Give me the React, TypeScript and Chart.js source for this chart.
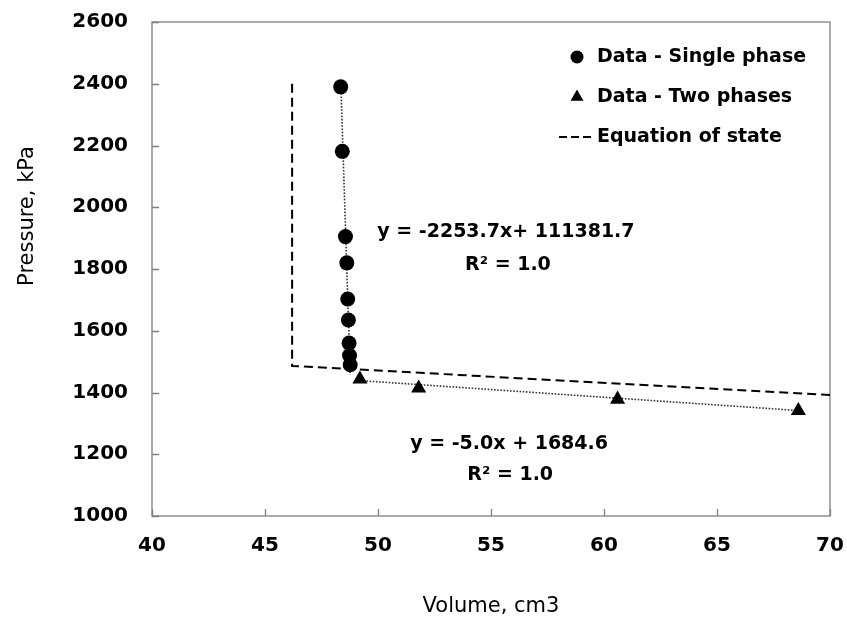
import React, { useEffect, useRef } from 'react';
import { Chart, registerables } from 'chart.js';

Chart.register(...registerables);

// ---- data ----
const singleVolume = [48.35, 48.42, 48.56, 48.62, 48.66, 48.69, 48.72, 48.74, 48.77];
const singlePressure = [2390, 2181, 1905, 1820, 1703, 1635, 1560, 1520, 1490];

const twoVolume = [49.2, 51.8, 60.6, 68.6];
const twoPressure = [1443, 1414, 1378, 1341];

const eosVolume = [46.2, 46.2, 70];
const eosPressure = [2400, 1486, 1392];

const trendSingleVolume = [48.36, 48.77];
const trendSinglePressure = [2390, 1457];
const trendTwoVolume = [49.2, 68.6];
const trendTwoPressure = [1438.6, 1341.6];

const xTicks = [40, 45, 50, 55, 60, 65, 70];
const yTicks = [1000, 1200, 1400, 1600, 1800, 2000, 2200, 2400, 2600];

const legendLabels = ['Data - Single phase', 'Data - Two phases', 'Equation of state'];
const equationTexts = ['y = -2253.7x+ 111381.7', 'R\u00B2 = 1.0', 'y = -5.0x + 1684.6', 'R\u00B2 = 1.0'];
const equationVolume = [55.66, 55.75, 55.8, 55.85];
const equationPressure = [1920, 1813, 1233, 1133];

const xTitle = 'Volume, cm3';
const yTitle = 'Pressure, kPa';

const FONT = "'DejaVu Sans', sans-serif";

const zip = (xs: number[], ys: number[]) => xs.map((x, i) => ({ x, y: ys[i] }));

const noPad = (s: any) => {
  s.paddingTop = 0;
  s.paddingBottom = 0;
  s.paddingLeft = 0;
  s.paddingRight = 0;
};

const framePlugin = {
  id: 'frame',
  beforeDatasetsDraw(chart: any) {
    const { ctx, chartArea: a, scales } = chart;
    ctx.save();
    ctx.strokeStyle = '#7f7f7f';
    ctx.lineWidth = 1.3;
    ctx.strokeRect(a.left, a.top, a.right - a.left, a.bottom - a.top);
    ctx.beginPath();
    for (const v of xTicks) {
      const px = Math.round(scales.x.getPixelForValue(v)) + 0.5;
      ctx.moveTo(px, a.bottom);
      ctx.lineTo(px, a.bottom - 7);
    }
    for (const v of yTicks) {
      const py = Math.round(scales.y.getPixelForValue(v)) + 0.5;
      ctx.moveTo(a.left, py);
      ctx.lineTo(a.left + 7, py);
    }
    ctx.stroke();
    ctx.restore();
  },
  afterDraw(chart: any) {
    const { ctx, chartArea: a, scales } = chart;
    ctx.save();
    // y title
    ctx.fillStyle = '#000';
    ctx.font = `21px ${FONT}`;
    ctx.textAlign = 'center';
    ctx.textBaseline = 'middle';
    ctx.translate(28, 216);
    ctx.rotate(-Math.PI / 2);
    ctx.fillText(yTitle, 0, 0);
    ctx.restore();

    // equations
    ctx.save();
    ctx.fillStyle = '#000';
    ctx.font = `bold 19px ${FONT}`;
    ctx.textAlign = 'center';
    ctx.textBaseline = 'middle';
    equationTexts.forEach((t, i) => {
      ctx.fillText(t, scales.x.getPixelForValue(equationVolume[i]), scales.y.getPixelForValue(equationPressure[i]));
    });
    ctx.restore();

    // legend
    ctx.save();
    const lx = a.right - 253;
    const ly = a.top + 35;
    const gap = 40;
    ctx.fillStyle = '#000';
    ctx.beginPath();
    ctx.arc(lx, ly, 6.5, 0, Math.PI * 2);
    ctx.fill();
    const tr = 7.5;
    const ty = ly + gap;
    ctx.beginPath();
    ctx.moveTo(lx, ty - tr);
    ctx.lineTo(lx + tr * 0.866, ty + tr / 2);
    ctx.lineTo(lx - tr * 0.866, ty + tr / 2);
    ctx.closePath();
    ctx.fill();
    ctx.strokeStyle = '#000';
    ctx.lineWidth = 2;
    ctx.setLineDash([8, 4]);
    ctx.beginPath();
    ctx.moveTo(lx - 18, ly + 2 * gap);
    ctx.lineTo(lx + 18, ly + 2 * gap);
    ctx.stroke();
    ctx.setLineDash([]);
    ctx.font = `bold 19px ${FONT}`;
    ctx.textAlign = 'left';
    ctx.textBaseline = 'middle';
    legendLabels.forEach((t, i) => ctx.fillText(t, lx + 20, ly + i * gap));
    ctx.restore();
  },
};

export default function App() {
  const ref = useRef<HTMLCanvasElement | null>(null);
  useEffect(() => {
    if (!ref.current) return;
    const chart = new Chart(ref.current, {
      type: 'scatter',
      data: {
        datasets: [
          {
            label: legendLabels[0],
            data: zip(singleVolume, singlePressure),
            pointStyle: 'circle',
            pointRadius: 7.5,
            backgroundColor: '#000',
            borderColor: '#000',
            borderWidth: 0,
            showLine: false,
          },
          {
            label: legendLabels[1],
            data: zip(twoVolume, twoPressure),
            pointStyle: 'triangle',
            pointRadius: 8.7,
            backgroundColor: '#000',
            borderColor: '#000',
            borderWidth: 0,
            showLine: false,
          },
          {
            label: 'trend single',
            data: zip(trendSingleVolume, trendSinglePressure),
            showLine: true,
            pointRadius: 0,
            borderColor: '#333',
            borderWidth: 1.6,
            borderDash: [1.6, 1.6],
          },
          {
            label: 'trend two',
            data: zip(trendTwoVolume, trendTwoPressure),
            showLine: true,
            pointRadius: 0,
            borderColor: '#333',
            borderWidth: 1.6,
            borderDash: [1.6, 1.6],
          },
          {
            label: legendLabels[2],
            data: zip(eosVolume, eosPressure),
            showLine: true,
            pointRadius: 0,
            borderColor: '#000',
            borderWidth: 2,
            borderDash: [9, 5],
          },
        ],
      },
      options: {
        animation: false,
        responsive: false,
        maintainAspectRatio: false,
        layout: { padding: { left: 0, right: 17, top: 22, bottom: 0 } },
        plugins: {
          legend: { display: false },
          tooltip: { enabled: false },
        },
        scales: {
          x: {
            type: 'linear',
            min: 40,
            max: 70,
            afterBuildTicks: (s: any) => { s.ticks = xTicks.map((v) => ({ value: v })); },
            afterFit: (s: any) => { s.height = 103; noPad(s); },
            grid: { display: false, drawTicks: false },
            border: { display: false },
            ticks: {
              padding: 18,
              color: '#000',
              font: { family: FONT, size: 20, weight: 'bold' },
              callback: (v: any) => String(v),
              maxRotation: 0,
            },
            title: {
              display: true,
              text: xTitle,
              color: '#000',
              font: { family: FONT, size: 21 },
              padding: { top: 0, bottom: 0 },
            },
          },
          y: {
            type: 'linear',
            min: 1000,
            max: 2600,
            afterBuildTicks: (s: any) => { s.ticks = yTicks.map((v) => ({ value: v })); },
            afterFit: (s: any) => { s.width = 152; noPad(s); },
            grid: { display: false, drawTicks: false },
            border: { display: false },
            ticks: {
              padding: 24,
              color: '#000',
              font: { family: FONT, size: 20, weight: 'bold' },
              callback: (v: any) => String(v),
            },
          },
        },
      },
      plugins: [framePlugin],
    });
    return () => chart.destroy();
  }, []);
  return (
    <div style={{ position: 'absolute', left: 0, top: 0, width: 847, height: 619, background: '#fff' }}>
      <canvas ref={ref} width={847} height={619} style={{ width: 847, height: 619 }} />
    </div>
  );
}
